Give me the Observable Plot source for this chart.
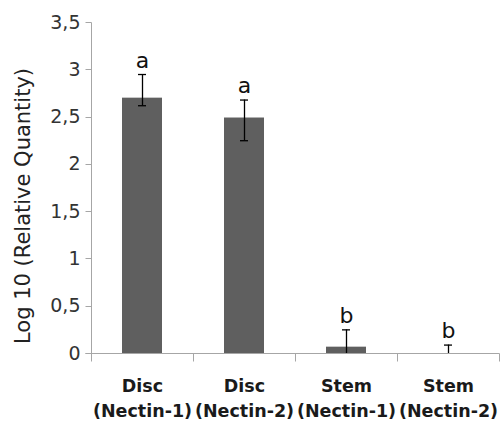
<!DOCTYPE html>
<html>
<head>
<meta charset="utf-8">
<script src="https://cdn.jsdelivr.net/npm/d3@7"></script>
<script src="https://cdn.jsdelivr.net/npm/@observablehq/plot@0.6"></script>
<style>
  html, body { margin: 0; padding: 0; background: #fff; }
</style>
</head>
<body>
<div id="chart"></div>
<script>
// ---- data ----
const categories = ["Disc\n(Nectin-1)", "Disc\n(Nectin-2)", "Stem\n(Nectin-1)", "Stem\n(Nectin-2)"];
const values   = [2.70, 2.49, 0.067, 0.0];
const errLow   = [2.62, 2.25, 0.0, 0.0];
const errHigh  = [2.95, 2.68, 0.25, 0.089];
const letters  = ["a", "a", "b", "b"];
const yTicks   = [0, 0.5, 1, 1.5, 2, 2.5, 3, 3.5];
const yTitle   = "Log 10 (Relative Quantity)";

const data = categories.map((c, i) => ({
  cat: c, value: values[i], lo: errLow[i], hi: errHigh[i], letter: letters[i]
}));

const AXIS_GRAY = "#a6a6a6";

// axis lines and boundary ticks drawn from the scales
function axisLines(index, scales, vals, dims) {
  const {x, y} = scales;
  const g = d3.create("svg:g").attr("stroke", AXIS_GRAY).attr("stroke-width", 1).attr("fill", "none");
  const bw = typeof x.bandwidth === "function" ? x.bandwidth() : x.bandwidth;
  const step = x(categories[1]) - x(categories[0]);
  const y0 = Math.round(y(0)) + 0.5;
  const yTop = Math.round(y(d3.max(yTicks))) + 0.5;
  const xl = dims.marginLeft + 0.5;
  g.append("line").attr("x1", xl).attr("x2", xl).attr("y1", yTop).attr("y2", y0);
  for (const t of yTicks) {
    const yy = Math.round(y(t)) + 0.5;
    g.append("line").attr("x1", xl - 6).attr("x2", xl).attr("y1", yy).attr("y2", yy);
  }
  g.append("line").attr("x1", xl - 6).attr("x2", dims.width - dims.marginRight + 0.5).attr("y1", y0).attr("y2", y0);
  const bounds = categories.map(c => x(c) - (step - bw) / 2);
  bounds.push(x(categories[categories.length - 1]) + bw + (step - bw) / 2);
  for (const b of bounds) {
    const bx = Math.round(b) + 0.5;
    g.append("line").attr("x1", bx).attr("x2", bx).attr("y1", y0).attr("y2", y0 + 8);
  }
  return g.node();
}

const capInset = 16;

const chart = Plot.plot({
  width: 501,
  height: 423,
  marginLeft: 91,
  marginRight: 2,
  marginTop: 22,
  marginBottom: 70,
  style: { fontFamily: "DejaVu Sans", background: "#fff", overflow: "visible" },
  x: { domain: categories, paddingInner: 0.61, paddingOuter: 0.305, label: null },
  y: { domain: [0, 3.5], label: null },
  marks: [
    Plot.barY(data, { x: "cat", y: "value", fill: "#5f5f5f" }),
    axisLines,
    Plot.axisY({
      ticks: yTicks, tickSize: 0, tickPadding: 11, label: null,
      tickFormat: d => String(d).replace(".", ","),
      fontSize: 19, fill: "#333", letterSpacing: 2
    }),
    Plot.axisX({
      tickSize: 0, tickPadding: 20, label: null,
      fontSize: 17.5, fontWeight: "bold", lineHeight: 1.45, fill: "#1a1a1a"
    }),
    Plot.ruleX(data, { x: "cat", y1: "lo", y2: "hi", stroke: "#000", strokeWidth: 1.3 }),
    Plot.tickY(data, { x: "cat", y: "hi", stroke: "#000", strokeWidth: 1.3, insetLeft: capInset, insetRight: capInset }),
    Plot.tickY(data.filter(d => d.lo > 0), { x: "cat", y: "lo", stroke: "#000", strokeWidth: 1.3, insetLeft: capInset, insetRight: capInset }),
    Plot.text(data, { x: "cat", y: "hi", text: "letter", lineAnchor: "bottom", dy: -7, fontSize: 22, fill: "#111" }),
    Plot.text([yTitle], {
      text: d => d, frameAnchor: "left", rotate: -90, dx: -68, dy: 18,
      textAnchor: "middle", lineAnchor: "middle", fontSize: 21, fill: "#222", letterSpacing: 1.5
    })
  ]
});

document.getElementById("chart").appendChild(chart);
</script>
</body>
</html>
